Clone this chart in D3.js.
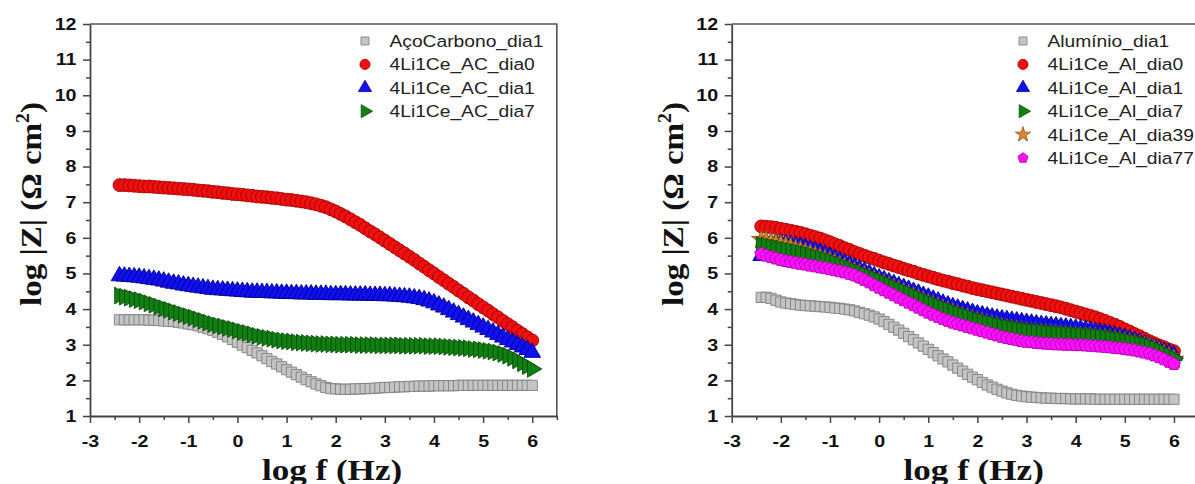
<!DOCTYPE html>
<html>
<head>
<meta charset="utf-8">
<script src="https://cdn.jsdelivr.net/npm/d3@7"></script>
<style>
  html, body { margin: 0; padding: 0; background: #fff; }
  svg { display: block; }
</style>
</head>
<body>
<div id="chart"></div>
<script>
// log f grid shared by every series (one point per 0.1 decade)
const logF = [
  -2.4, -2.3, -2.2, -2.1, -2.0, -1.9, -1.8, -1.7, -1.6, -1.5,
  -1.4, -1.3, -1.2, -1.1, -1.0, -0.9, -0.8, -0.7, -0.6, -0.5,
  -0.4, -0.3, -0.2, -0.1, 0.0, 0.1, 0.2, 0.3, 0.4, 0.5,
  0.6, 0.7, 0.8, 0.9, 1.0, 1.1, 1.2, 1.3, 1.4, 1.5,
  1.6, 1.7, 1.8, 1.9, 2.0, 2.1, 2.2, 2.3, 2.4, 2.5,
  2.6, 2.7, 2.8, 2.9, 3.0, 3.1, 3.2, 3.3, 3.4, 3.5,
  3.6, 3.7, 3.8, 3.9, 4.0, 4.1, 4.2, 4.3, 4.4, 4.5,
  4.6, 4.7, 4.8, 4.9, 5.0, 5.1, 5.2, 5.3, 5.4, 5.5,
  5.6, 5.7, 5.8, 5.9, 6.0
];

// left panel: carbon steel
const acoCarbono_dia1 = [
  3.70, 3.70, 3.70, 3.70, 3.70, 3.70, 3.69, 3.69, 3.68, 3.67,
  3.66, 3.65, 3.63, 3.61, 3.58, 3.56, 3.53, 3.49, 3.45, 3.40,
  3.35, 3.29, 3.22, 3.15, 3.07, 2.99, 2.92, 2.84, 2.77, 2.69,
  2.61, 2.53, 2.46, 2.38, 2.30, 2.23, 2.16, 2.09, 2.02, 1.96,
  1.90, 1.85, 1.80, 1.77, 1.76, 1.75, 1.75, 1.75, 1.76, 1.76,
  1.77, 1.77, 1.78, 1.79, 1.80, 1.80, 1.81, 1.82, 1.82, 1.83,
  1.83, 1.84, 1.84, 1.84, 1.85, 1.85, 1.85, 1.85, 1.85, 1.86,
  1.86, 1.86, 1.86, 1.86, 1.86, 1.86, 1.86, 1.86, 1.86, 1.86,
  1.86, 1.86, 1.86, 1.86, 1.86
];
const ac_dia0 = [
  7.48, 7.48, 7.47, 7.46, 7.45, 7.44, 7.44, 7.43, 7.42, 7.41,
  7.40, 7.39, 7.38, 7.37, 7.36, 7.35, 7.33, 7.32, 7.31, 7.29,
  7.28, 7.26, 7.25, 7.23, 7.22, 7.21, 7.19, 7.18, 7.16, 7.15,
  7.14, 7.12, 7.11, 7.09, 7.07, 7.06, 7.04, 7.02, 7.00, 6.97,
  6.94, 6.90, 6.86, 6.80, 6.74, 6.67, 6.60, 6.52, 6.44, 6.36,
  6.27, 6.18, 6.10, 6.01, 5.92, 5.83, 5.74, 5.65, 5.56, 5.47,
  5.38, 5.28, 5.19, 5.09, 5.00, 4.90, 4.81, 4.71, 4.62, 4.52,
  4.43, 4.33, 4.24, 4.14, 4.05, 3.96, 3.86, 3.77, 3.67, 3.58,
  3.49, 3.39, 3.30, 3.21, 3.12
];
const ac_dia1 = [
  4.93, 4.92, 4.91, 4.90, 4.89, 4.87, 4.85, 4.83, 4.81, 4.78,
  4.75, 4.72, 4.70, 4.67, 4.65, 4.63, 4.61, 4.59, 4.57, 4.55,
  4.54, 4.53, 4.52, 4.51, 4.50, 4.49, 4.48, 4.47, 4.47, 4.46,
  4.46, 4.45, 4.45, 4.44, 4.44, 4.43, 4.43, 4.42, 4.42, 4.42,
  4.41, 4.41, 4.41, 4.40, 4.40, 4.40, 4.40, 4.39, 4.39, 4.39,
  4.39, 4.38, 4.38, 4.38, 4.37, 4.37, 4.36, 4.35, 4.34, 4.33,
  4.31, 4.29, 4.26, 4.22, 4.17, 4.11, 4.05, 3.98, 3.91, 3.84,
  3.77, 3.70, 3.63, 3.56, 3.49, 3.42, 3.35, 3.28, 3.21, 3.14,
  3.07, 3.00, 2.93, 2.86, 2.78
];
const ac_dia7 = [
  4.38, 4.35, 4.32, 4.28, 4.25, 4.21, 4.16, 4.12, 4.07, 4.02,
  3.98, 3.93, 3.89, 3.84, 3.80, 3.76, 3.71, 3.67, 3.62, 3.58,
  3.54, 3.51, 3.47, 3.44, 3.40, 3.36, 3.33, 3.29, 3.25, 3.22,
  3.19, 3.17, 3.14, 3.12, 3.10, 3.09, 3.07, 3.06, 3.05, 3.04,
  3.03, 3.02, 3.02, 3.01, 3.01, 3.00, 3.00, 3.00, 3.00, 2.99,
  2.99, 2.99, 2.99, 2.98, 2.98, 2.98, 2.98, 2.98, 2.97, 2.97,
  2.97, 2.97, 2.97, 2.96, 2.96, 2.96, 2.95, 2.94, 2.93, 2.92,
  2.91, 2.90, 2.88, 2.87, 2.85, 2.83, 2.81, 2.78, 2.74, 2.69,
  2.63, 2.56, 2.48, 2.40, 2.32
];

// right panel: aluminium
const aluminio_dia1 = [
  4.33, 4.33, 4.30, 4.25, 4.20, 4.17, 4.15, 4.13, 4.11, 4.10,
  4.09, 4.08, 4.07, 4.06, 4.05, 4.03, 4.02, 4.00, 3.98, 3.95,
  3.91, 3.87, 3.83, 3.78, 3.72, 3.65, 3.57, 3.49, 3.41, 3.32,
  3.23, 3.14, 3.05, 2.96, 2.87, 2.78, 2.69, 2.60, 2.52, 2.43,
  2.34, 2.26, 2.17, 2.09, 2.02, 1.94, 1.87, 1.81, 1.75, 1.70,
  1.65, 1.61, 1.58, 1.56, 1.54, 1.53, 1.52, 1.51, 1.50, 1.50,
  1.49, 1.49, 1.49, 1.48, 1.48, 1.48, 1.48, 1.48, 1.47, 1.47,
  1.47, 1.47, 1.47, 1.47, 1.47, 1.47, 1.47, 1.47, 1.47, 1.47,
  1.47, 1.47, 1.47, 1.47, 1.47
];
const al_dia0 = [
  6.32, 6.31, 6.30, 6.28, 6.25, 6.23, 6.20, 6.17, 6.14, 6.10,
  6.06, 6.02, 5.98, 5.93, 5.88, 5.82, 5.77, 5.71, 5.66, 5.60,
  5.55, 5.50, 5.45, 5.41, 5.36, 5.31, 5.27, 5.22, 5.18, 5.13,
  5.09, 5.05, 5.00, 4.96, 4.92, 4.88, 4.84, 4.80, 4.77, 4.73,
  4.70, 4.66, 4.63, 4.59, 4.56, 4.53, 4.50, 4.47, 4.44, 4.41,
  4.38, 4.35, 4.32, 4.29, 4.26, 4.23, 4.20, 4.17, 4.14, 4.11,
  4.08, 4.05, 4.01, 3.97, 3.93, 3.89, 3.85, 3.81, 3.77, 3.72,
  3.67, 3.61, 3.56, 3.50, 3.43, 3.37, 3.30, 3.24, 3.17, 3.10,
  3.04, 2.98, 2.93, 2.87, 2.82
];
const al_dia1 = [
  5.50, 5.84, 5.86, 5.86, 5.85, 5.83, 5.81, 5.79, 5.76, 5.72,
  5.68, 5.64, 5.59, 5.54, 5.48, 5.42, 5.36, 5.30, 5.24, 5.18,
  5.12, 5.06, 5.00, 4.93, 4.87, 4.82, 4.76, 4.71, 4.65, 4.60,
  4.55, 4.49, 4.44, 4.38, 4.33, 4.27, 4.22, 4.16, 4.11, 4.06,
  4.02, 3.98, 3.94, 3.90, 3.86, 3.83, 3.80, 3.77, 3.74, 3.72,
  3.70, 3.68, 3.66, 3.64, 3.62, 3.60, 3.58, 3.56, 3.55, 3.53,
  3.52, 3.50, 3.49, 3.47, 3.46, 3.44, 3.42, 3.40, 3.37, 3.35,
  3.32, 3.29, 3.26, 3.23, 3.20, 3.16, 3.12, 3.07, 3.02, 2.97,
  2.92, 2.87, 2.81, 2.76, 2.70
];
const al_dia7 = [
  5.80, 5.78, 5.75, 5.73, 5.70, 5.67, 5.64, 5.61, 5.58, 5.55,
  5.51, 5.47, 5.43, 5.39, 5.35, 5.30, 5.25, 5.19, 5.14, 5.08,
  5.03, 4.97, 4.91, 4.86, 4.80, 4.74, 4.68, 4.62, 4.56, 4.50,
  4.44, 4.38, 4.32, 4.26, 4.20, 4.14, 4.09, 4.03, 3.98, 3.93,
  3.88, 3.83, 3.79, 3.74, 3.70, 3.66, 3.62, 3.59, 3.55, 3.52,
  3.49, 3.47, 3.45, 3.42, 3.40, 3.38, 3.37, 3.36, 3.34, 3.33,
  3.32, 3.31, 3.30, 3.29, 3.28, 3.27, 3.26, 3.25, 3.24, 3.22,
  3.21, 3.19, 3.17, 3.15, 3.12, 3.09, 3.06, 3.03, 3.00, 2.96,
  2.90, 2.84, 2.77, 2.70, 2.62
];
const al_dia39 = [
  5.95, 5.93, 5.90, 5.86, 5.82, 5.78, 5.74, 5.69, 5.65, 5.60,
  5.56, 5.51, 5.46, 5.41, 5.36, 5.30, 5.24, 5.18, 5.12, 5.06,
  5.00, 4.94, 4.88, 4.83, 4.77, 4.71, 4.65, 4.59, 4.53, 4.47,
  4.41, 4.35, 4.29, 4.23, 4.17, 4.11, 4.06, 4.00, 3.95, 3.90,
  3.85, 3.80, 3.76, 3.71, 3.67, 3.63, 3.59, 3.56, 3.52, 3.49,
  3.46, 3.44, 3.42, 3.39, 3.37, 3.35, 3.34, 3.33, 3.31, 3.30,
  3.29, 3.28, 3.27, 3.26, 3.25, 3.24, 3.23, 3.22, 3.21, 3.19,
  3.18, 3.16, 3.14, 3.12, 3.09, 3.06, 3.03, 3.00, 2.97, 2.93,
  2.87, 2.81, 2.74, 2.67, 2.59
];
const al_dia77 = [
  5.55, 5.50, 5.46, 5.42, 5.38, 5.35, 5.32, 5.30, 5.27, 5.25,
  5.22, 5.20, 5.17, 5.15, 5.12, 5.09, 5.06, 5.03, 4.99, 4.95,
  4.89, 4.82, 4.75, 4.67, 4.60, 4.53, 4.46, 4.39, 4.32, 4.25,
  4.18, 4.11, 4.04, 3.97, 3.90, 3.84, 3.78, 3.72, 3.67, 3.62,
  3.58, 3.54, 3.50, 3.46, 3.42, 3.38, 3.34, 3.30, 3.26, 3.22,
  3.19, 3.16, 3.13, 3.10, 3.08, 3.07, 3.05, 3.04, 3.03, 3.02,
  3.01, 3.01, 3.00, 3.00, 2.99, 2.99, 2.98, 2.97, 2.96, 2.95,
  2.94, 2.93, 2.91, 2.90, 2.88, 2.86, 2.84, 2.81, 2.78, 2.75,
  2.70, 2.65, 2.59, 2.52, 2.46
];

const leftNames = ['AçoCarbono_dia1', '4Li1Ce_AC_dia0', '4Li1Ce_AC_dia1', '4Li1Ce_AC_dia7'];
const rightNames = ['Alumínio_dia1', '4Li1Ce_Al_dia0', '4Li1Ce_Al_dia1', '4Li1Ce_Al_dia7',
  '4Li1Ce_Al_dia39', '4Li1Ce_Al_dia77'];

const xTicks = [-3, -2, -1, 0, 1, 2, 3, 4, 5, 6];
const yTicks = [1, 2, 3, 4, 5, 6, 7, 8, 9, 10, 11, 12];
const xDomain = [-3, 6.5];
const yDomain = [1, 12];

const width = 1195, height = 484;
const textStretch = 1.19; // the source picture is wider than tall

const styles = {
  square: {shape: 'square', fill: '#c4c4c4', stroke: '#808080'},
  circle: {shape: 'circle', fill: '#f01010', stroke: '#a00000'},
  triangle: {shape: 'triangle', fill: '#1010f0', stroke: '#000090'},
  right: {shape: 'right', fill: '#108010', stroke: '#0a4a0a'},
  star: {shape: 'star', fill: '#d8892e', stroke: '#8a5216'},
  pentagon: {shape: 'pentagon', fill: '#ff10ff', stroke: '#b000b0'},
};

const svg = d3.select('#chart').append('svg')
  .attr('width', width)
  .attr('height', height);

function pentagon(r) {
  const pts = d3.range(5).map(k => {
    const a = (-90 + 72 * k) * Math.PI / 180;
    return [r * Math.cos(a), r * Math.sin(a)];
  });
  return 'M' + pts.map(p => p.join(',')).join('L') + 'Z';
}

function markerPath(shape, big) {
  const k = big ? 1 : 0.62;
  if (shape === 'square') return d3.symbol(d3.symbolSquare, 105 * k)();
  if (shape === 'circle') return d3.symbol(d3.symbolCircle, 130 * k)();
  if (shape === 'triangle' || shape === 'right') return d3.symbol(d3.symbolTriangle, 120 * k)();
  if (shape === 'star') return d3.symbol(d3.symbolStar, 115 * k)();
  return pentagon(6.8 * Math.sqrt(k));
}

function drawPanel({left, series, names, legendX, drawOrder}) {
  const x = d3.scaleLinear().domain(xDomain).range([left, left + 9.5 * 49.14]);
  const y = d3.scaleLinear().domain(yDomain).range([416, 24]);
  const g = svg.append('g');

  // frame top and right
  g.append('path')
    .attr('d', `M${x(-3)},${y(12)}H${x(6.5)}V${y(1)}`)
    .attr('fill', 'none')
    .attr('stroke', '#555')
    .attr('stroke-width', 1.6);

  // series, in the order the original plot stacks them
  drawOrder.forEach(idx => {
    const s = series[idx];
    const st = styles[s.style];
    const p = markerPath(st.shape, true);
    g.append('g').selectAll('path')
      .data(logF.map((f, i) => [f, s.values[i]]))
      .join('path')
      .attr('d', p)
      .attr('transform', d => `translate(${x(d[0])},${y(d[1])})` + (st.shape === 'right' ? ' rotate(90)' : ''))
      .attr('fill', st.fill)
      .attr('stroke', st.stroke)
      .attr('stroke-width', 0.9);
  });

  // axes
  const xMinor = xTicks.map(v => v + 0.5);
  const yMinor = yTicks.slice(0, -1).map(v => v + 0.5);

  const xa = g.append('g').attr('transform', `translate(0,${y(1)})`)
    .call(d3.axisBottom(x).tickValues(xTicks).tickSize(7).tickSizeOuter(0).tickFormat(d3.format('d')));
  g.append('g').attr('transform', `translate(0,${y(1)})`)
    .call(d3.axisBottom(x).tickValues(xMinor).tickSize(4).tickSizeOuter(0).tickFormat(''))
    .select('.domain').remove();
  const ya = g.append('g').attr('transform', `translate(${x(-3)},0)`)
    .call(d3.axisLeft(y).tickValues(yTicks).tickSize(7).tickSizeOuter(0));
  g.append('g').attr('transform', `translate(${x(-3)},0)`)
    .call(d3.axisLeft(y).tickValues(yMinor).tickSize(4).tickSizeOuter(0).tickFormat(''))
    .select('.domain').remove();

  g.selectAll('.domain').attr('stroke', '#444').attr('stroke-width', 1.8);
  g.selectAll('.tick line').attr('stroke', '#444').attr('stroke-width', 1.5);

  xa.selectAll('.tick text')
    .attr('y', 0).attr('dy', 0)
    .attr('transform', `translate(0,31) scale(${textStretch},1)`)
    .attr('font-family', 'Liberation Sans, Arial, sans-serif')
    .attr('font-weight', 'bold').attr('font-size', 16.5).attr('fill', '#111')
    .text(d => d < 0 ? '-' + Math.abs(d) : d);
  ya.selectAll('.tick text')
    .attr('x', 0)
    .attr('transform', `translate(-13.5,0) scale(${textStretch},1)`)
    .attr('font-family', 'Liberation Sans, Arial, sans-serif')
    .attr('font-weight', 'bold').attr('font-size', 16.5).attr('fill', '#111');

  // axis titles
  g.append('text')
    .attr('text-anchor', 'middle')
    .attr('font-family', 'Liberation Serif, Times New Roman, serif')
    .attr('font-weight', 'bold').attr('font-size', 30).attr('fill', '#111')
    .attr('transform', `translate(${left + 242},480) scale(1.17,1)`)
    .text('log f (Hz)');

  const yl = g.append('text')
    .attr('text-anchor', 'middle')
    .attr('font-family', 'Liberation Serif, Times New Roman, serif')
    .attr('font-weight', 'bold').attr('font-size', 30).attr('fill', '#111');
  yl.append('tspan').text('log |Z| (Ω cm');
  yl.append('tspan').attr('font-size', 18).attr('dy', -12).text('2');
  yl.append('tspan').attr('dy', 12).text(')');
  const len = yl.node().getComputedTextLength();
  yl.attr('transform', `translate(${left - 49},204) rotate(-90) scale(${204 / len},1)`);

  // legend
  series.forEach((s, i) => {
    const st = styles[s.style];
    const cy = 41 + 23.4 * i;
    g.append('path')
      .attr('d', markerPath(st.shape, false))
      .attr('transform', `translate(${legendX},${cy})` + (st.shape === 'right' ? ' rotate(90)' : ''))
      .attr('fill', st.fill)
      .attr('stroke', st.stroke)
      .attr('stroke-width', 0.8);
    g.append('text')
      .attr('transform', `translate(${legendX + 24.5},${cy + 5.9}) scale(${textStretch - 0.01},1)`)
      .attr('font-family', 'Liberation Sans, Arial, sans-serif')
      .attr('font-size', 16.3).attr('fill', '#222')
      .text(names[i]);
  });
}

drawPanel({
  left: 90,
  legendX: 365,
  names: leftNames,
  drawOrder: [0, 1, 2, 3],
  series: [
    {values: acoCarbono_dia1, style: 'square'},
    {values: ac_dia0, style: 'circle'},
    {values: ac_dia1, style: 'triangle'},
    {values: ac_dia7, style: 'right'},
  ],
});

drawPanel({
  left: 731.7,
  legendX: 1023,
  names: rightNames,
  drawOrder: [0, 1, 2, 4, 3, 5],
  series: [
    {values: aluminio_dia1, style: 'square'},
    {values: al_dia0, style: 'circle'},
    {values: al_dia1, style: 'triangle'},
    {values: al_dia7, style: 'right'},
    {values: al_dia39, style: 'star'},
    {values: al_dia77, style: 'pentagon'},
  ],
});
</script>
</body>
</html>
